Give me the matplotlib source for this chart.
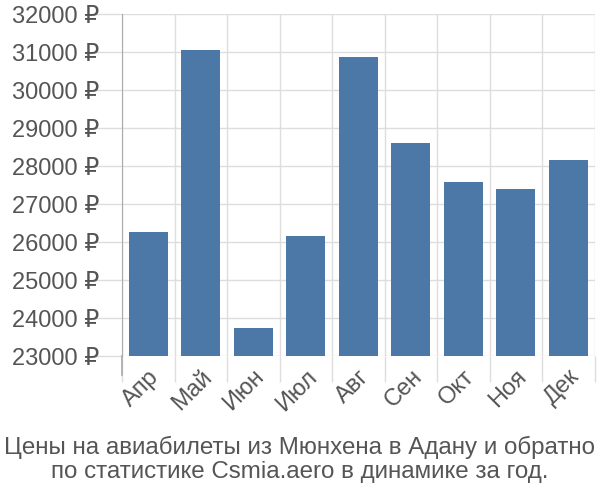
import matplotlib
matplotlib.use("Agg")
import matplotlib.pyplot as plt
import numpy as np

months = ["Апр", "Май", "Июн", "Июл", "Авг", "Сен", "Окт", "Ноя", "Дек"]
prices = [26260, 31050, 23730, 26160, 30870, 28610, 27580, 27400, 28150]
yticks = list(range(23000, 32001, 1000))
title = "Цены на авиабилеты из Мюнхена в Адану и обратно\nпо статистике Csmia.aero в динамике за год."

plt.rcParams['font.family'] = ['Liberation Sans', 'DejaVu Sans']
txt = "#555555"
grid = "#dddddd"
fs = 17

fig = plt.figure(figsize=(6, 5), dpi=100)
ax = fig.add_axes([122/600, 1-356/500, (594.5-122)/600, (356-14)/500])

x = np.arange(len(months))
ax.bar(x, prices, width=0.75, color="#4c78a8", bottom=0, zorder=3)
ax.set_ylim(23000, 32000)
ax.set_xlim(-0.5, len(months)-0.5)

ax.set_yticks(yticks)
ax.set_yticklabels([f"{v} ₽" for v in yticks], fontsize=fs, color=txt)
ax.tick_params(axis='y', length=22, color=grid, width=1, pad=-5.5)

ax.set_xticks(x)
ax.set_xticklabels(months, rotation=45, ha='right', rotation_mode='anchor', fontsize=fs, color=txt)
ax.tick_params(axis='x', which='major', length=0, pad=7)
ax.set_xticks(np.arange(-0.5, len(months)), minor=True)
ax.tick_params(axis='x', which='minor', length=19, color=grid, width=1)

ax.grid(True, axis='y', color=grid, lw=1, zorder=0)
ax.grid(True, axis='x', which='minor', color=grid, lw=1, zorder=0)

for s in ['top', 'right', 'bottom']:
    ax.spines[s].set_visible(False)
ax.spines['left'].set_color("#aaaaaa")
ax.spines['left'].set_bounds(23000, 32000)

ax.plot([-0.5, -0.5], [0, -19/342], transform=ax.get_xaxis_transform(), color="#aaaaaa", lw=1.2, clip_on=False, zorder=4)

fig.text(0.5, 1-459.5/500, title, ha='center', va='center', fontsize=17.4, color=txt, linespacing=1.1)

fig.savefig("out.png", dpi=100)
